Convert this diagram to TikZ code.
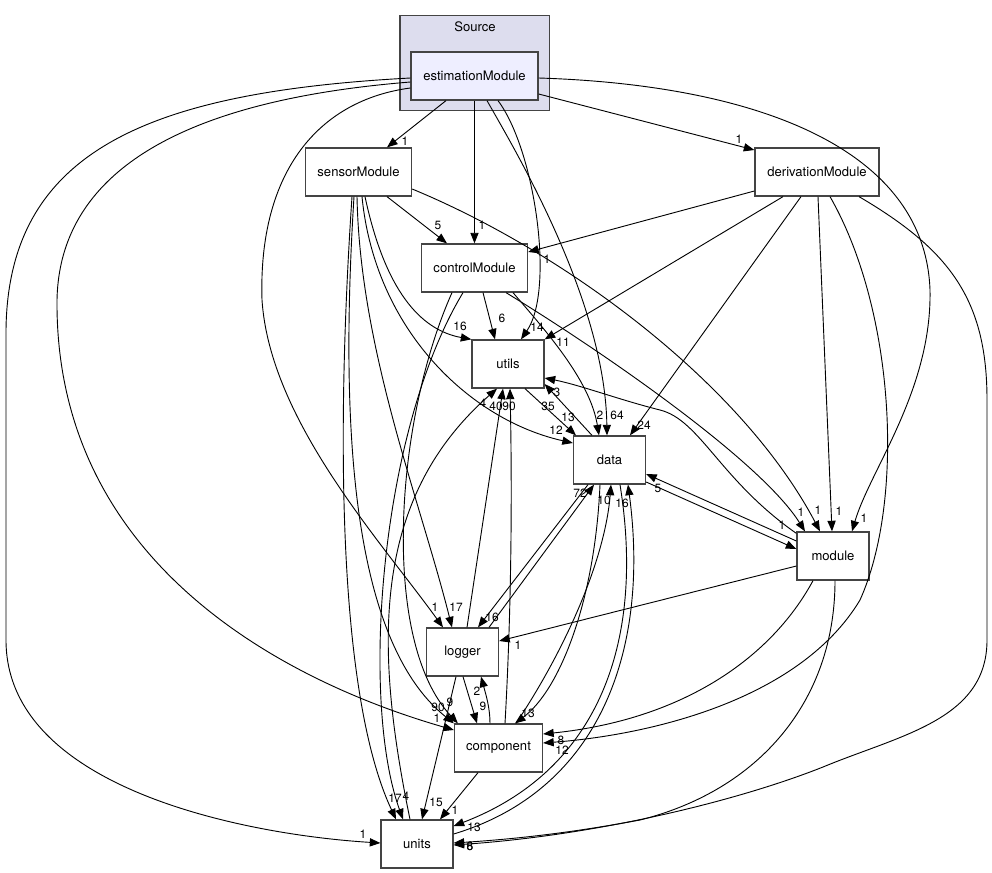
\documentclass[tikz,border=0pt]{standalone}
\usepackage{fontspec}
\setmainfont{TeX Gyre Heros}
\usetikzlibrary{arrows.meta, calc}
\definecolor{clusterfill}{HTML}{DDDDEE}
\definecolor{estfill}{HTML}{EEEEFF}
\definecolor{boxline}{HTML}{444444}

\begin{document}
\begin{tikzpicture}[
  x=0.025cm, y=-0.025cm,
  font=\fontsize{9.3}{11}\selectfont,
  dirbox/.style={draw=boxline, line width=0.9pt, fill=white, minimum height=1.2cm, inner sep=0pt},
  clusterbox/.style={draw=boxline, line width=0.9pt, fill=clusterfill, minimum width=3.74cm, minimum height=2.375cm, inner sep=0pt},
  arrow/.style={-{Triangle[length=7.5pt,width=5.8pt]}, line width=0.65pt},
  num/.style={font=\fontsize{8.5}{9}\selectfont, inner sep=0pt}
]
  \useasboundingbox (0,0) rectangle (992,873);

  % directory boxes
  \node[clusterbox] (source) at (474.75,63) {};
  \node (sourcename) at (475,27) {Source};
  \node[dirbox, fill=estfill, minimum width=3.175cm] (est) at (474.5,76) {estimationModule};
  \node[dirbox, minimum width=2.65cm] (sensor) at (358.5,172) {sensorModule};
  \node[dirbox, minimum width=3.1cm] (deriv) at (817,172) {derivationModule};
  \node[dirbox, minimum width=2.65cm] (ctrl) at (474.5,268) {controlModule};
  \node[dirbox, minimum width=1.8cm] (utils) at (508,364) {utils};
  \node[dirbox, minimum width=1.8cm] (data) at (609.5,460) {data};
  \node[dirbox, minimum width=1.8cm] (module) at (833,556) {module};
  \node[dirbox, minimum width=1.8cm] (logger) at (462.5,652) {logger};
  \node[dirbox, minimum width=2.2cm] (comp) at (498.5,748) {component};
  \node[dirbox, minimum width=1.8cm] (units) at (417,844) {units};

  % from estimationModule
  \draw[arrow] ($(est.south)+(-28.5,0)$) -- ($(sensor.north)+(28.5,0)$) node[num] (l1) at (405,141) {1};
  \draw[arrow] (est.south) -- (ctrl.north) node[num] (l2) at (482,225) {1};
  \draw[arrow] ($(est.south)+(23.5,0)$) .. controls (535,150) and (555,290) .. ($(utils.north)+(13,0)$) node[num] (l3) at (537,327) {14};
  \draw[arrow] ($(est.south)+(12.5,0)$) .. controls (515,150) and (605,300) .. ($(data.north)+(-2.5,0)$) node[num] (l4) at (617,415) {64};
  \draw[arrow] ($(est.east)+(0,18)$) -- ($(deriv.west)+(0,-22)$) node[num] (l5) at (739,139) {1};
  \draw[arrow] ($(est.east)+(0,2)$) .. controls (760,85) and (925,150) .. (930,290) .. controls (932,390) and (870,470) .. ($(module.north)+(19,0)$) node[num] (l6) at (864,518) {1};
  \draw[arrow] ($(est.west)+(0,12)$) .. controls (320,100) and (258,170) .. (262,300) .. controls (270,420) and (380,540) .. ($(logger.north)+(-19.5,0)$) node[num] (l7) at (435,607) {1};
  \draw[arrow] ($(est.west)+(0,6)$) .. controls (250,95) and (60,140) .. (57,300) .. controls (55,560) and (280,680) .. ($(comp.west)+(0,-18)$) node[num] (l8) at (437,718) {1};
  \draw[arrow] ($(est.west)+(0,2)$) .. controls (150,92) and (8,150) .. (6,330) -- (6,640) .. controls (6,790) and (250,835) .. ($(units.west)+(0,-1)$) node[num] (l9) at (363,834) {1};

  % from sensorModule
  \draw[arrow] ($(sensor.south)+(28.5,0)$) -- ($(ctrl.north)+(-27.5,0)$) node[num] (l10) at (438,225) {5};
  \draw[arrow] ($(sensor.south)+(6.5,0)$) .. controls (385,290) and (420,330) .. (utils.north west) node[num] (l11) at (460,326) {16};
  \draw[arrow] ($(sensor.south)+(3.5,0)$) .. controls (375,330) and (470,420) .. ($(data.west)+(0,-17)$) node[num] (l12) at (556,430) {12};
  \draw[arrow] ($(sensor.east)+(0,17)$) .. controls (560,250) and (740,380) .. ($(module.north)+(-13,0)$) node[num] (l13) at (818,510) {1};
  \draw[arrow] ($(sensor.south)+(-1.5,0)$) .. controls (360,350) and (420,500) .. ($(logger.north)+(-10.5,0)$) node[num] (l14) at (456,607) {17};
  \draw[arrow] ($(sensor.south)+(-4.5,0)$) .. controls (340,420) and (350,640) .. (comp.north west) node[num] (l15) at (438,707) {90};
  \draw[arrow] ($(sensor.south)+(-6.5,0)$) .. controls (335,450) and (340,700) .. ($(units.north)+(-21,0)$) node[num] (l16) at (395,798) {17};

  % from controlModule
  \draw[arrow] ($(ctrl.south)+(8.5,0)$) -- ($(utils.north)+(-13,0)$) node[num] (l17) at (502,318) {6};
  \draw[arrow] ($(ctrl.south)+(38.5,0)$) .. controls (545,330) and (590,380) .. ($(data.north)+(-10.5,0)$) node[num] (l18) at (600,415) {2};
  \draw[arrow] ($(ctrl.south)+(31.5,0)$) .. controls (600,350) and (760,460) .. ($(module.north)+(-28,0)$) node[num] (l19) at (801,512) {1};
  \draw[arrow] ($(ctrl.south)+(-22.5,0)$) .. controls (395,420) and (380,640) .. ($(comp.north west)+(4,0)$) node[num] (l20) at (450,702) {9};
  \draw[arrow] ($(ctrl.south)+(-11.5,0)$) .. controls (380,430) and (360,700) .. ($(units.north)+(-14,0)$) node[num] (l21) at (406,796) {4};

  % from derivationModule
  \draw[arrow] ($(deriv.west)+(0,19)$) -- ($(ctrl.east)+(0,-16)$) node[num] (l22) at (547,259) {1};
  \draw[arrow] ($(deriv.south)+(-34,0)$) -- (utils.north east) node[num] (l23) at (563,342) {11};
  \draw[arrow] ($(deriv.south)+(-16,0)$) -- ($(data.north)+(20.5,0)$) node[num] (l24) at (644,425) {24};
  \draw[arrow] ($(deriv.south)+(1,0)$) -- ($(module.north)+(-1,0)$) node[num] (l25) at (839,511) {1};
  \draw[arrow] ($(deriv.south)+(13,0)$) .. controls (895,310) and (905,500) .. (860,600) .. controls (800,700) and (650,735) .. ($(comp.east)+(0,-5)$) node[num] (l26) at (562,750) {12};
  \draw[arrow] ($(deriv.south)+(42,0)$) .. controls (950,250) and (987,300) .. (987,400) -- (987,640) .. controls (987,720) and (900,735) .. (823,767) .. controls (740,800) and (600,835) .. ($(units.east)+(0,1)$) node[num] (l27) at (470,846) {6};

  % between the lower directories
  \draw[arrow] ($(utils.south)+(17,0)$) -- ($(data.north)+(-33.5,0)$) node[num] (l28) at (568,417) {13};
  \draw[arrow] ($(data.north)+(-17.5,0)$) -- ($(utils.east)+(0,20)$) node[num] (l29) at (548,406) {35};
  \draw[arrow] ($(module.north west)+(0,2)$) .. controls (720,480) and (700,420) .. (660,410) .. controls (620,400) and (580,385) .. ($(utils.east)+(0,14)$) node[num] (l30) at (557,392) {3};
  \draw[arrow] ($(data.east)+(0,22)$) -- ($(module.west)+(0,-7)$) node[num] (l31) at (782,525) {1};
  \draw[arrow] ($(module.west)+(0,-15)$) -- ($(data.east)+(0,14)$) node[num] (l32) at (658,488) {5};
  \draw[arrow] ($(module.west)+(0,10)$) -- ($(logger.east)+(0,-11)$) node[num] (l33) at (518,645) {1};
  \draw[arrow] ($(module.south)+(-20,0)$) .. controls (770,660) and (680,720) .. ($(comp.east)+(0,-14)$) node[num] (l34) at (561,740) {8};
  \draw[arrow] ($(module.south)+(2,0)$) .. controls (835,700) and (760,790) .. (640,820) .. controls (560,835) and (500,840) .. ($(units.east)+(0,-1)$) node[num] (l35) at (470,846) {8};
  \draw[arrow] ($(data.south)+(-21.5,0)$) -- ($(logger.north)+(15.5,0)$) node[num] (l36) at (492,617) {16};
  \draw[arrow] ($(logger.north)+(26.5,0)$) -- ($(data.south)+(-15.5,0)$) node[num] (l37) at (580,493) {72};
  \draw[arrow] ($(data.south)+(-9.5,0)$) .. controls (595,600) and (560,690) .. ($(comp.north)+(16.5,0)$) node[num] (l38) at (528,713) {13};
  \draw[arrow] ($(data.south)+(10.5,0)$) .. controls (645,640) and (600,770) .. ($(units.east)+(0,-18)$) node[num] (l39) at (474,827) {13};
  \draw[arrow] ($(logger.north)+(4.5,0)$) -- ($(utils.south)+(-5,0)$) node[num] (l40) at (509,406) {90};
  \draw[arrow] ($(logger.south)+(0.5,0)$) -- ($(comp.north)+(-21.5,0)$) node[num] (l41) at (483,706) {9};
  \draw[arrow] ($(logger.south)+(-6.5,0)$) -- ($(units.north)+(5,0)$) node[num] (l42) at (436,802) {15};
  \draw[arrow] ($(comp.north)+(6.5,0)$) .. controls (512,600) and (512,480) .. ($(utils.south)+(2,0)$) node[num] (l43) at (496,406) {40};
  \draw[arrow] ($(comp.north)+(17.5,0)$) .. controls (565,650) and (605,560) .. ($(data.south)+(1.5,0)$) node[num] (l44) at (604,500) {10};
  \draw[arrow] ($(comp.north)+(-8.5,0)$) .. controls (490,708) and (486,695) .. ($(logger.south)+(18.5,0)$) node[num] (l45) at (477,691) {2};
  \draw[arrow] ($(comp.south)+(-20.5,0)$) -- ($(units.north)+(23,0)$) node[num] (l46) at (455,810) {1};
  \draw[arrow] ($(units.north)+(-7,0)$) .. controls (375,650) and (370,500) .. ($(utils.south)+(-11,0)$) node[num] (l47) at (483,403) {4};
  \draw[arrow] ($(units.east)+(0,-10)$) .. controls (600,790) and (650,650) .. ($(data.south)+(18.5,0)$) node[num] (l48) at (622,503) {16};
\end{tikzpicture}
\end{document}
